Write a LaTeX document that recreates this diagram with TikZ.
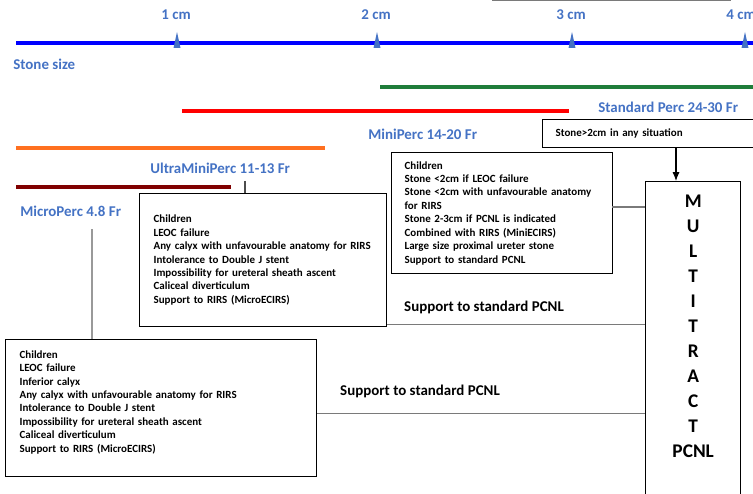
\documentclass[tikz,border=0pt]{standalone}
\usepackage{fontspec}
\setmainfont{Carlito}
\definecolor{ScaleBlue}{HTML}{0000FF}
\definecolor{LabelBlue}{HTML}{4472C4}
\definecolor{StandardGreen}{HTML}{1F7D3A}
\definecolor{MiniRed}{HTML}{FF0000}
\definecolor{UltraOrange}{HTML}{FF7020}
\definecolor{MicroRed}{HTML}{800000}
\definecolor{LinkGray}{HTML}{7A7A7A}
\usetikzlibrary{arrows.meta}

\begin{document}
\begin{tikzpicture}[x=0.02cm, y=-0.02cm,
    sizebar/.style={line width=2.2pt},
    perclabel/.style={text=LabelBlue, anchor=west, inner sep=0pt, font=\bfseries\fontsize{8.5}{10}\selectfont},
    listbox/.style={draw, line width=0.7pt, anchor=north west, align=left, inner ysep=0pt, font=\bfseries\fontsize{6.25}{7.65}\selectfont},
    supportlabel/.style={inner sep=0pt, font=\bfseries\fontsize{8.5}{10}\selectfont},
    link/.style={draw=LinkGray, line width=0.6pt}]

    \useasboundingbox (0,0) rectangle (753,493);
    \clip (0,0) rectangle (753,493);

    % stone size scale
    \coordinate (S0) at (16,43);
    \coordinate (S4) at (760,43);
    \draw [sizebar, ScaleBlue] (S0) -- (S4);
    \foreach \x/\lx/\t in {177/176/1, 377/376/2, 572/571/3, 745/741/4} {
        \fill [LabelBlue] (\x-3.5,48) -- (\x,32) -- (\x+3.5,48) -- cycle;
        \node [perclabel, anchor=center] (cm\t) at (\lx,15) {\t{} cm};
    }
    \node [perclabel] (stonesize) at (13,64) {Stone size};

    \draw [LinkGray, line width=0.8pt] (492,0.5) -- (731,0.5);

    % access sizes
    \coordinate (G0) at (380,87);
    \coordinate (G1) at (760,87);
    \coordinate (R0) at (182,111);
    \coordinate (R1) at (569,111);
    \coordinate (O0) at (16,148);
    \coordinate (O1) at (325,148);
    \coordinate (D0) at (16,187);
    \coordinate (D1) at (231,187);

    \draw [sizebar, StandardGreen, line width=2pt] (G0) -- (G1);
    \draw [sizebar, MiniRed] (R0) -- (R1);
    \draw [sizebar, UltraOrange] (O0) -- (O1);
    \draw [sizebar, MicroRed] (D0) -- (D1);

    \node [perclabel] (standard) at (598,107) {Standard Perc 24-30 Fr};
    \node [perclabel] (mini) at (368,134) {MiniPerc 14-20 Fr};
    \node [perclabel] (ultra) at (150,168) {UltraMiniPerc 11-13 Fr};
    \node [perclabel] (micro) at (20,211) {MicroPerc 4.8 Fr};

    % indication boxes
    \node [listbox, text width=3.84cm, inner xsep=0.26cm, minimum height=0.56cm] (stonebox) at (542,119)
        {Stone>2cm in any situation};

    \node [listbox, text width=3.9cm, inner xsep=0.26cm, minimum height=2.42cm] (minibox) at (391,152)
        {Children\\Stone <2cm if LEOC failure\\Stone <2cm with unfavourable anatomy\\for RIRS\\Stone 2-3cm if PCNL is indicated\\Combined with RIRS (MiniECIRS)\\Large size proximal ureter stone\\Support to standard PCNL};

    \node [listbox, text width=4.38cm, inner xsep=0.28cm, minimum height=2.66cm] (ultrabox) at (139,193)
        {Children\\LEOC failure\\Any calyx with unfavourable anatomy for RIRS\\Intolerance to Double J stent\\Impossibility for ureteral sheath ascent\\Caliceal diverticulum\\Support to RIRS (MicroECIRS)};

    \node [listbox, text width=5.66cm, inner xsep=0.28cm, minimum height=2.74cm] (lowbox) at (5,339)
        {Children\\LEOC failure\\Inferior calyx\\Any calyx with unfavourable anatomy for RIRS\\Intolerance to Double J stent\\Impossibility for ureteral sheath ascent\\Caliceal diverticulum\\Support to RIRS (MicroECIRS)\\ \mbox{}};

    \node [draw, line width=0.8pt, anchor=north west, minimum width=1.9cm, minimum height=6.28cm, align=center,
        font=\bfseries\fontsize{11}{14.2}\selectfont] (multi) at (645,181)
        {M\\U\\L\\T\\I\\T\\R\\A\\C\\T\\PCNL\\ \mbox{}};

    % connectors
    \coordinate (micro-stem) at (92,229);
    \draw [link, draw=black!40] (micro-stem) -- (micro-stem |- lowbox.north);
    \coordinate (ultra-stem) at (245,181);
    \draw [link, draw=black!70] (ultra-stem) -- (ultra-stem |- ultrabox.north);

    \coordinate (mini-out) at (612,207);
    \draw [link] (mini-out) -- (mini-out -| multi.west);
    \coordinate (ultra-out) at ([yshift=1.7pt]ultrabox.south east);
    \draw [link] (ultra-out) -- (ultra-out -| multi.west);
    \coordinate (low-out) at ([yshift=-3pt]lowbox.east);
    \draw [link] (low-out) -- (low-out -| multi.west);

    \coordinate (stone-out) at (676,0 |- stonebox.south);
    \draw [-{Latex[length=5pt,width=4pt]}, line width=0.6pt] (stone-out) -- (stone-out |- multi.north);

    \node [supportlabel] (support-ultra) at (484,307) {Support to standard PCNL};
    \node [supportlabel] (support-low) at (420,391) {Support to standard PCNL};

\end{tikzpicture}
\end{document}
